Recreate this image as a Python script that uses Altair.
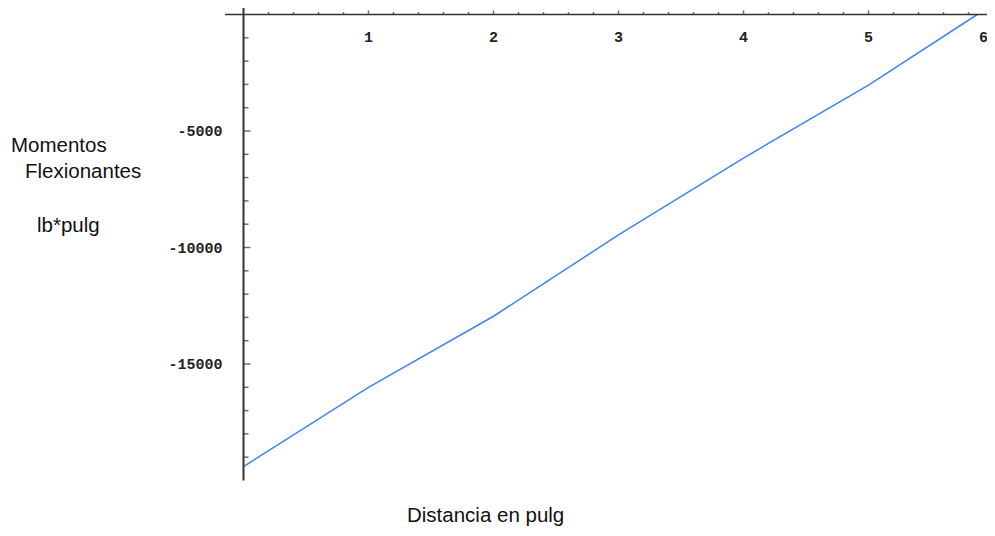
import altair as alt
import pandas as pd

# Data
dist = [0.0, 1.0, 2.0, 3.0, 4.0, 5.0, 5.87]
moment = [-19400, -16000, -12950, -9460, -6160, -3030, 0]

x_major = [1, 2, 3, 4, 5]
x_edge_label = [6]
x_minor = [round(i * 0.2, 1) for i in range(1, 30) if i % 5 != 0]
y_major = [-5000, -10000, -15000]
y_minor = [-1000 * i for i in range(1, 20) if i % 5 != 0]

W, H = 979, 520
PX_PER_X = 125.0
PX_PER_Y = 23.3 / 1000
X0 = (8 - 243.5) / PX_PER_X
X_DOMAIN = [X0, X0 + W / PX_PER_X]
Y1 = (14.5 - 8) / PX_PER_Y
Y_DOMAIN = [Y1 - H / PX_PER_Y, Y1]

xs = alt.Scale(domain=X_DOMAIN, nice=False, zero=False)
ys = alt.Scale(domain=Y_DOMAIN, nice=False, zero=False)

AXIS_COLOR = "#333333"
TICK_FONT = "Liberation Mono"
TITLE_FONT = "Liberation Sans"

def X(f="x"):
    return alt.X(f"{f}:Q", scale=xs, axis=None)

def Y(f="y"):
    return alt.Y(f"{f}:Q", scale=ys, axis=None)

line_df = pd.DataFrame({"x": dist, "y": moment})
line = alt.Chart(line_df).mark_line(color="#3d85f5", strokeWidth=1.5).encode(x=X(), y=Y())

# axis lines
xaxis = alt.Chart(pd.DataFrame({"x": [-0.148], "x2": [X_DOMAIN[1]], "y": [0]})).mark_rule(
    color=AXIS_COLOR, strokeWidth=1.5).encode(x=X(), x2="x2:Q", y=Y())
yaxis = alt.Chart(pd.DataFrame({"x": [0], "y": [Y_DOMAIN[1]], "y2": [-20000]})).mark_rule(
    color=AXIS_COLOR, strokeWidth=2).encode(x=X(), y=Y(), y2="y2:Q")

# x ticks (extend upward)
xmaj = alt.Chart(pd.DataFrame({"x": x_major + x_edge_label, "y": 0})).mark_tick(
    orient="vertical", size=4, thickness=1.5, color=AXIS_COLOR, yOffset=-2
).encode(x=X(), y=Y())
xmin = alt.Chart(pd.DataFrame({"x": x_minor, "y": 0})).mark_tick(
    orient="vertical", size=2.5, thickness=1.5, color=AXIS_COLOR, yOffset=-1.25
).encode(x=X(), y=Y())

# y ticks (extend right)
ymaj = alt.Chart(pd.DataFrame({"x": 0, "y": y_major})).mark_tick(
    orient="horizontal", size=7, thickness=1.5, color=AXIS_COLOR, xOffset=3.5
).encode(x=X(), y=Y())
ymin = alt.Chart(pd.DataFrame({"x": 0, "y": y_minor})).mark_tick(
    orient="horizontal", size=5, thickness=1.5, color=AXIS_COLOR, xOffset=2.5
).encode(x=X(), y=Y())

# tick labels
lab_style = dict(font=TICK_FONT, fontWeight="bold", fontSize=15, color="#222222", baseline="middle")
xlab = alt.Chart(pd.DataFrame({"x": x_major, "y": 0, "t": [str(v) for v in x_major]})).mark_text(
    align="center", dy=22, **lab_style).encode(x=X(), y=Y(), text="t:N")
# the last label sits at the right edge of the picture (cut off in the original)
xlab_edge = alt.Chart(pd.DataFrame({"x": x_edge_label, "y": 0, "t": [str(v) for v in x_edge_label]})).mark_text(
    align="center", dy=22, dx=-10, **lab_style).encode(x=X(), y=Y(), text="t:N")
ylab = alt.Chart(pd.DataFrame({"x": 0, "y": y_major, "t": [str(v) for v in y_major]})).mark_text(
    align="right", dx=-21, **lab_style).encode(x=X(), y=Y(), text="t:N")

# axis titles
titles_df = pd.DataFrame({
    "t": ["Momentos", "Flexionantes", "lb*pulg", "Distancia en pulg"],
    "px": [3, 17, 29, 399],
    "py": [144, 170, 224, 514],
})
titles = alt.Chart(titles_df).mark_text(
    font=TITLE_FONT, fontSize=20.5, color="#111111", align="left", baseline="alphabetic"
).encode(
    x=alt.X("px:Q", scale=alt.Scale(domain=[0, W], nice=False, zero=False), axis=None),
    y=alt.Y("py:Q", scale=alt.Scale(domain=[H, 0], nice=False, zero=False), axis=None),
    text="t:N",
)

chart = alt.layer(line, xaxis, yaxis, xmaj, xmin, ymaj, ymin, xlab, xlab_edge, ylab, titles).resolve_scale(
    x="independent", y="independent"
).properties(
    width=W, height=H, autosize=alt.AutoSizeParams(type="none"), padding=0,
    background="white",
).configure_view(stroke=None)

chart.save("out.html", embed_options={"renderer": "svg", "actions": False})
